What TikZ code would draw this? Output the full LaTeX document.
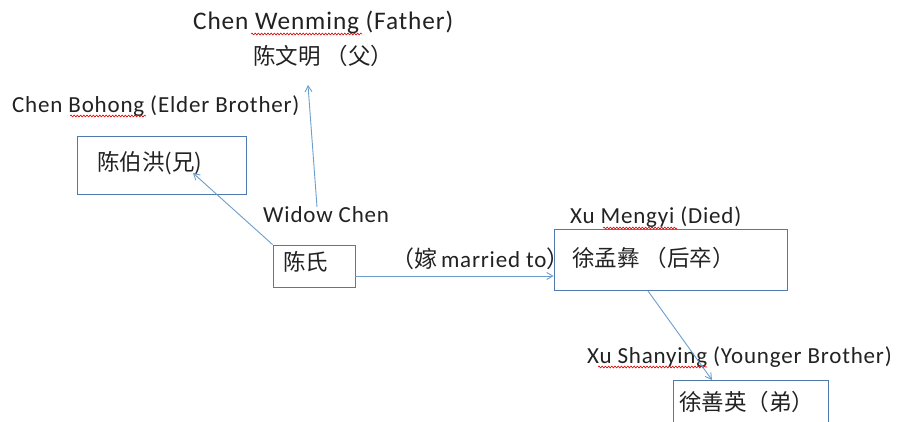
\documentclass[tikz,border=0pt]{standalone}
\usepackage{fontspec}
\setmainfont{Carlito}[LetterSpace=3.5]
\newfontfamily\cjk{Noto Sans CJK SC}
\usetikzlibrary{arrows.meta,decorations.pathmorphing}
\definecolor{boxline}{HTML}{5079AE}
\definecolor{arrowline}{HTML}{6C9ECF}
\definecolor{txt}{HTML}{222222}
\tikzset{
  lbl/.style={anchor=base west,inner sep=0pt,text=txt,font=\fontsize{23}{26}\selectfont},
  biglbl/.style={lbl,font=\fontsize{25.3}{28}\selectfont},
  cjktext/.style={inner sep=0pt,text=txt,font=\fontsize{22.5}{26}\selectfont\cjk},
  person/.style={draw=boxline,line width=0.9pt,fill=white,inner sep=0pt},
  link/.style={draw=arrowline,line width=0.9pt,-{Straight Barb[length=6pt,width=7pt]}},
  spell/.style={draw=red!85!black,line width=0.6pt,decorate,decoration={snake,amplitude=0.9pt,segment length=3.2pt}}
}
\begin{document}
\begin{tikzpicture}[x=1pt,y=-1pt]
\useasboundingbox (0,0) rectangle (897,421);
\fill[white] (0,0) rectangle (897,421);

% boxes
\node[person,minimum width=169pt,minimum height=58pt] (bro) at (162,165) {};
\node[person,minimum width=82pt,minimum height=42pt] (chen) at (314,266) {};
\node[person,minimum width=233pt,minimum height=61pt] (xu) at (670.5,259.5) {};
\node[person,minimum width=155pt,minimum height=60pt] (young) at (750.5,410) {};

% labels
\node[biglbl] (lfather) at (193,29) {Chen Wenming (Father)};
\node[cjktext,anchor=west] (father) at (253,56) {陈文明 （父）};
\node[lbl] (lbro) at (12,112) {Chen Bohong (Elder Brother)};
\node[cjktext,anchor=west] (tbro) at (97,163) {陈伯洪(兄)};
\node[lbl] (lwidow) at (263,222) {Widow Chen};
\node[cjktext,anchor=west] (tchen) at (283,262) {陈氏};
\node[lbl] (lmarried) at (391,267) {{\cjk （嫁}\,married to{\cjk ）}};
\node[lbl] (lxu) at (570,223) {Xu Mengyi (Died)};
\node[cjktext,anchor=west] (txu) at (572,258) {徐孟彝 （后卒）};
\node[lbl] (lyoung) at (587,363) {Xu Shanying (Younger Brother)};
\node[cjktext,anchor=west] (tyoung) at (679,402) {徐善英（弟）};

% spell-check underlines
\draw[spell] (251,34) -- (362,34);
\draw[spell] (70,116) -- (146,116);
\draw[spell] (603,228) -- (677,228);
\draw[spell] (598,367) -- (707,367);

% connectors
\coordinate (fatherfoot) at (308,85);
\coordinate (widowtop) at (317,207);
\coordinate (brotip) at (193,173);
\coordinate (xufoot) at (648,291);
\coordinate (youngtip) at (712,380);
\draw[link] (widowtop) -- (fatherfoot);
\draw[link] (chen.north west) -- (brotip);
\draw[link] (chen.east |- 0,276) -- (xu.west |- 0,276);
\draw[link] (xufoot) -- (youngtip);
\end{tikzpicture}
\end{document}
